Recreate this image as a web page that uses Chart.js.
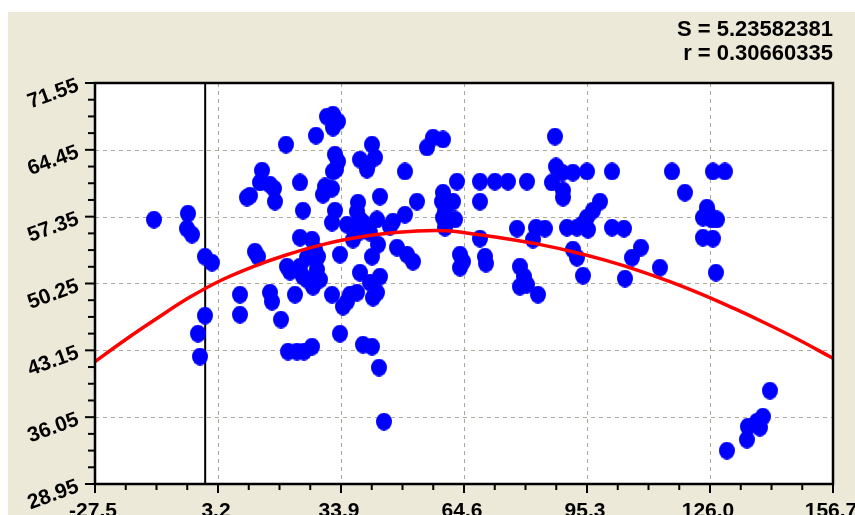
<!DOCTYPE html>
<html>
<head>
<meta charset="utf-8">
<script src="https://cdn.jsdelivr.net/npm/chart.js@4.4.1/dist/chart.umd.min.js"></script>
<style>
  html, body { margin: 0; padding: 0; background: #ffffff; }
  #wrap { width: 855px; height: 515px; }
</style>
</head>
<body>
<div id="wrap"><canvas id="c" width="855" height="515"></canvas></div>
<script>
// Axis tick values
const xTicks = [-27.5, 3.2, 33.9, 64.6, 95.3, 126.0, 156.7];
const yTicks = [28.95, 36.05, 43.15, 50.25, 57.35, 64.45, 71.55];

// Observations (x, y)
const obsX = [
  -12.78, -4.29, -4.54, -3.29, -0.05, 1.70, -0.05, -1.80, -1.30, 8.69,
  8.69, 10.43, 11.18, 12.43, 13.18, 14.18, 13.68, 16.17, 17.17, 17.42,
  16.17, 16.67, 18.92, 20.17, 20.42, 21.17, 20.67, 22.91, 24.66, 26.66,
  22.41, 23.66, 24.41, 23.66, 26.66, 27.40, 28.15, 25.41, 23.66, 27.90,
  28.65, 25.41, 24.41, 26.90, 27.65, 30.40, 31.90, 33.14, 31.90, 32.40,
  33.14, 32.65, 31.90, 29.90, 31.65, 29.40, 32.40, 31.65, 33.64, 31.65,
  34.39, 36.14, 33.64, 35.39, 38.13, 37.89, 38.63, 40.38, 42.88, 38.63,
  36.89, 39.38, 41.13, 41.63, 38.63, 40.63, 42.38, 40.38, 43.63, 49.86,
  52.86, 55.36, 56.85, 59.35, 46.87, 49.86, 46.12, 43.13, 47.87, 50.36,
  51.86, 41.63, 38.63, 41.13, 43.63, 42.88, 41.88, 37.89, 35.39, 39.38,
  41.63, 43.38, 44.62, 62.84, 59.35, 59.10, 59.85, 59.35, 61.84, 62.34,
  59.85, 63.59, 63.59, 64.34, 68.58, 68.58, 68.58, 72.32, 75.57, 80.31,
  69.83, 70.08, 77.82, 82.56, 84.80, 81.81, 78.56, 79.56, 78.56, 80.31,
  83.06, 87.30, 87.55, 89.05, 91.79, 95.29, 86.55, 89.30, 89.30, 101.53,
  98.53, 96.78, 95.29, 94.04, 90.30, 92.79, 95.54, 101.53, 104.52, 91.79,
  92.79, 94.29, 104.77, 108.76, 106.52, 113.50, 116.50, 119.74, 126.73, 129.72,
  125.23, 124.23, 126.48, 127.73, 125.48, 124.23, 126.73, 127.48, 140.95, 139.20,
  137.71, 135.46, 138.45, 135.21, 130.22
];
const obsY = [
  57.04, 57.68, 56.09, 55.45, 53.11, 52.47, 46.84, 44.93, 42.49, 49.07,
  46.95, 59.38, 59.59, 53.64, 53.11, 62.25, 60.98, 60.76, 60.34, 58.96,
  49.29, 48.33, 46.42, 65.01, 52.05, 51.52, 43.02, 43.02, 43.02, 43.55,
  49.07, 60.98, 58.00, 55.13, 54.92, 53.86, 53.11, 53.00, 52.05, 51.73,
  50.67, 50.67, 51.00, 49.92, 65.97, 67.99, 68.20, 67.46, 66.82, 63.95,
  63.21, 62.36, 62.15, 60.56, 60.34, 59.70, 58.00, 56.73, 53.33, 49.07,
  47.80, 49.07, 44.93, 56.51, 58.85, 57.90, 57.05, 56.30, 57.05, 55.77,
  54.92, 56.73, 55.66, 65.01, 63.42, 62.89, 63.63, 62.36, 59.49, 62.15,
  58.96, 64.70, 65.76, 65.55, 56.83, 57.57, 56.30, 54.39, 54.07, 53.33,
  52.58, 53.11, 51.41, 50.35, 50.99, 49.29, 48.76, 49.29, 48.33, 43.76,
  43.55, 41.32, 35.58, 61.08, 59.91, 58.96, 57.90, 57.26, 58.96, 57.05,
  56.19, 53.33, 51.94, 52.58, 61.08, 58.96, 55.03, 61.08, 61.08, 61.08,
  53.11, 52.37, 56.09, 56.19, 56.09, 54.92, 52.05, 51.00, 49.92, 50.14,
  49.07, 65.86, 62.68, 62.04, 62.04, 62.15, 60.98, 60.13, 59.38, 62.15,
  58.96, 58.00, 57.26, 56.51, 56.19, 56.19, 55.98, 56.19, 56.09, 53.86,
  53.00, 51.09, 50.78, 54.07, 53.00, 51.94, 62.15, 59.91, 62.15, 62.15,
  58.32, 57.26, 57.05, 57.05, 57.79, 55.13, 55.03, 51.41, 38.87, 36.11,
  35.58, 35.05, 34.94, 33.67, 32.50
];

// Fitted curve samples
const fitX = [-27.5, -20, -12, -4, 4, 12, 20, 28, 36, 44, 52, 60, 68, 76, 84, 92, 100, 108, 116, 124, 132, 140, 148, 156.7];
const fitY = [41.95, 44.25, 46.55, 48.75, 50.6, 52.05, 53.25, 54.25, 55.0, 55.5, 55.8, 55.85, 55.45, 54.95, 54.35, 53.6, 52.7, 51.65, 50.45, 49.1, 47.6, 46.0, 44.3, 42.3];

// Reference line position and fit statistics
const refX = 0;
const statLines = ['S = 5.23582381', 'r = 0.30660335'];

const BEIGE = '#ECE9D8';
const GRID = '#ABA89C';
const TICK_FONT = "bold 21px 'Liberation Sans', Arial, sans-serif";
const STAT_FONT = "bold 22px 'Liberation Sans', Arial, sans-serif";

// Slightly tall oval marker
function makeDot(w, h, color) {
  const cv = document.createElement('canvas');
  cv.width = w; cv.height = h;
  const g = cv.getContext('2d');
  g.fillStyle = color;
  g.beginPath();
  g.ellipse(w / 2, h / 2, w / 2, h / 2, 0, 0, Math.PI * 2);
  g.fill();
  return cv;
}
const dot = makeDot(16, 18, '#0000ff');

const decor = {
  id: 'decor',
  beforeDraw(chart) {
    const { ctx, chartArea: a } = chart;
    ctx.save();
    ctx.fillStyle = '#ffffff';
    ctx.fillRect(0, 0, chart.width, chart.height);
    ctx.fillStyle = BEIGE;
    ctx.fillRect(8, 12, chart.width - 8, chart.height - 12);
    ctx.fillStyle = '#ffffff';
    ctx.fillRect(a.left, a.top, a.right - a.left, a.bottom - a.top);
    ctx.restore();
  },
  beforeDatasetsDraw(chart) {
    const { ctx, chartArea: a, scales: { x, y } } = chart;
    ctx.save();
    ctx.strokeStyle = GRID;
    ctx.lineWidth = 1;
    ctx.setLineDash([4, 4]);
    xTicks.slice(1, -1).forEach(v => {
      const px = Math.round(x.getPixelForValue(v)) + 0.5;
      ctx.beginPath(); ctx.moveTo(px, a.top); ctx.lineTo(px, a.bottom); ctx.stroke();
    });
    yTicks.slice(1, -1).forEach(v => {
      const py = Math.round(y.getPixelForValue(v)) + 0.5;
      ctx.beginPath(); ctx.moveTo(a.left, py); ctx.lineTo(a.right, py); ctx.stroke();
    });
    ctx.restore();
  },
  afterDatasetsDraw(chart) {
    const { ctx, chartArea: a, scales: { x, y } } = chart;
    ctx.save();
    // ticks, 3 minor between majors
    ctx.strokeStyle = '#000';
    ctx.lineWidth = 2;
    const xStep = (xTicks[1] - xTicks[0]) / 4;
    for (let i = 0; i <= (xTicks.length - 1) * 4; i++) {
      const px = x.getPixelForValue(xTicks[0] + i * xStep);
      const len = i % 4 === 0 ? 9 : 6;
      ctx.beginPath(); ctx.moveTo(px, a.bottom); ctx.lineTo(px, a.bottom + len); ctx.stroke();
    }
    const yStep = (yTicks[1] - yTicks[0]) / 4;
    for (let i = 0; i <= (yTicks.length - 1) * 4; i++) {
      const py = y.getPixelForValue(yTicks[0] + i * yStep);
      const len = i % 4 === 0 ? 10 : 7;
      ctx.beginPath(); ctx.moveTo(a.left, py); ctx.lineTo(a.left - len, py); ctx.stroke();
    }
    // frame
    ctx.lineWidth = 2.5;
    ctx.strokeRect(a.left, a.top, a.right - a.left, a.bottom - a.top);

    // tick labels
    ctx.fillStyle = '#000';
    ctx.font = TICK_FONT;
    ctx.textAlign = 'center';
    ctx.textBaseline = 'alphabetic';
    xTicks.forEach(v => {
      ctx.fillText(v.toFixed(1), x.getPixelForValue(v) - 2, 517);
    });
    yTicks.forEach(v => {
      const py = y.getPixelForValue(v);
      ctx.save();
      ctx.translate(78, py + 2);
      ctx.rotate(-20 * Math.PI / 180);
      ctx.textAlign = 'right';
      ctx.textBaseline = 'middle';
      ctx.fillText(v.toFixed(2), 0, 0);
      ctx.restore();
    });

    // statistics
    ctx.font = STAT_FONT;
    ctx.textAlign = 'right';
    ctx.fillText(statLines[0], a.right, 36);
    ctx.fillText(statLines[1], a.right, 60);
    ctx.restore();
  }
};

new Chart(document.getElementById('c'), {
  type: 'scatter',
  data: {
    datasets: [
      {
        type: 'line',
        data: fitX.map((v, i) => ({ x: v, y: fitY[i] })),
        showLine: true,
        borderColor: '#ff0000',
        borderWidth: 3.5,
        pointRadius: 0,
        tension: 0.4,
        fill: false,
        order: 0
      },
      {
        data: obsX.map((v, i) => ({ x: v, y: obsY[i] })),
        pointStyle: dot,
        backgroundColor: '#0000ff',
        borderColor: '#0000ff',
        pointRadius: 8,
        pointHoverRadius: 8,
        order: 1
      },
      {
        type: 'line',
        data: [{ x: refX, y: yTicks[0] }, { x: refX, y: yTicks[yTicks.length - 1] }],
        showLine: true,
        borderColor: '#000000',
        borderWidth: 2,
        pointRadius: 0,
        fill: false,
        order: 2
      }
    ]
  },
  options: {
    responsive: false,
    animation: false,
    devicePixelRatio: 1,
    layout: { padding: { top: 83, right: 22, left: 0, bottom: 0 } },
    plugins: { legend: { display: false }, tooltip: { enabled: false } },
    events: [],
    scales: {
      x: {
        type: 'linear',
        min: xTicks[0],
        max: xTicks[xTicks.length - 1],
        ticks: { display: false, stepSize: xTicks[1] - xTicks[0] },
        grid: { display: false },
        border: { display: false },
        afterFit(s) { s.height = 31; }
      },
      y: {
        type: 'linear',
        min: yTicks[0],
        max: yTicks[yTicks.length - 1],
        ticks: { display: false, stepSize: yTicks[1] - yTicks[0] },
        grid: { display: false },
        border: { display: false },
        afterFit(s) { s.width = 95; }
      }
    }
  },
  plugins: [decor]
});
</script>
</body>
</html>
